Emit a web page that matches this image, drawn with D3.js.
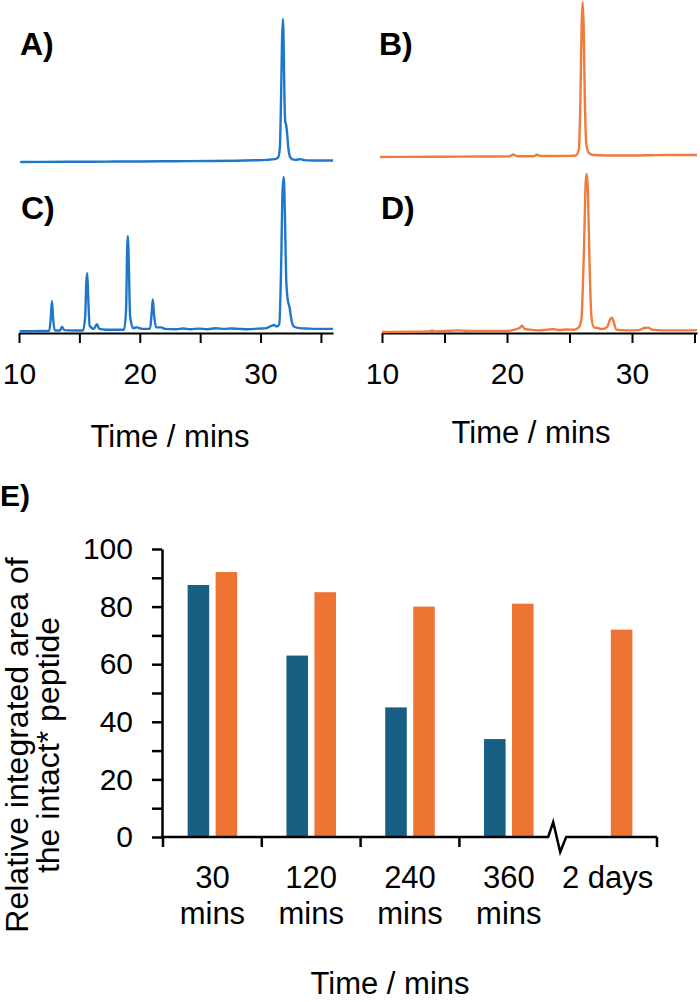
<!DOCTYPE html>
<meta charset="utf-8">
<title>Chromatograms and intact peptide</title>
<style>
  body { margin: 0; background: #fff; }
  text { font-family: "Liberation Sans", Arial, sans-serif; fill: #000; }
</style>
<body>
<script src="https://cdn.jsdelivr.net/npm/d3@7"></script>
<script>
    // chromatogram traces, [time / min, signal in % of the main peak]
    const traceA = [[10.1,0],[12,0.1],[14,0.2],[16,0.2],[18,0.3],[20,0.4],[22,0.5],[24,0.6],[26,0.7],[28,0.9],
        [29.5,1.2],[30.5,1.5],[31.2,2],[31.45,3],[31.6,10],[31.7,45],[31.78,85],[31.85,100],[31.92,80],[31.98,45],
        [32.05,28],[32.12,26],[32.2,20],[32.3,10],[32.42,4],[32.6,2],[32.9,1.5],[33.3,2],[33.6,1.3],[34.2,1.1],[35,1],[36,1]];

    const traceB = [[9.85,0],[12,0.1],[15,0.2],[18,0.3],[20.2,0.4],[20.5,1.6],[20.8,0.5],[22.1,0.5],[22.4,1.5],[22.7,0.6],
        [24,0.6],[25,0.7],[25.5,1],[25.75,5],[25.88,40],[25.97,85],[26.05,100],[26.13,85],[26.22,40],[26.35,8],
        [26.55,2.5],[26.9,1.3],[28,1],[30,1],[32,1.2],[34,1.3],[35.2,1.3]];

    const traceC = [[10.05,0.5],[11,0.5],[12,0.6],[12.5,0.8],[12.62,8],[12.73,20],[12.83,8],[12.98,1],[13.4,1],[13.56,3.5],
        [13.75,1.2],[14.5,1],[15.3,1],[15.48,10],[15.58,33],[15.65,38],[15.72,25],[15.85,4],[16.2,2],[16.45,5],[16.65,2],
        [17.2,1.5],[18,1.5],[18.7,1.5],[18.87,15],[18.96,55],[19.02,62],[19.09,45],[19.2,10],[19.45,2.5],[19.75,3],[20.2,2],
        [20.85,2],[20.98,12],[21.08,21],[21.17,12],[21.35,3],[21.75,3],[22.1,2],[23,1.8],[23.6,2.3],[24.2,1.8],[24.9,2.2],
        [25.6,1.8],[26.3,2.4],[27,2],[27.6,2.3],[28.3,2],[29,1.8],[29.8,2.2],[30.5,2.5],[30.9,4],[31.1,4.5],[31.35,3.5],
        [31.55,5],[31.7,40],[31.82,90],[31.92,100],[32.02,75],[32.12,35],[32.25,21],[32.4,16],[32.55,8],[32.75,3.5],
        [33.2,2.5],[34,2.2],[35,2],[36,2]];

    const traceD = [[10,0],[12,0.2],[13.8,0.4],[14,1],[14.2,0.4],[15.5,0.8],[16.1,1],[16.7,0.8],[17.5,0.6],[19.2,0.6],[20,0.6],
        [20.6,1.5],[21,2.5],[21.2,4],[21.4,2],[21.8,1.5],[22.5,1],[23.2,1.5],[23.7,1.8],[24.2,1.2],[24.8,1.6],[25.3,1.4],
        [25.7,2.5],[25.95,8],[26.15,50],[26.3,95],[26.38,100],[26.47,90],[26.6,45],[26.75,10],[26.95,3],[27.3,2.5],
        [27.6,1.8],[28,3],[28.25,8],[28.4,9],[28.55,6],[28.75,1.5],[29.5,1],[30.5,1.2],[31,2.5],[31.3,2.8],[31.6,1.5],
        [32.5,1],[34,1],[35.2,1.2]];

    const timeTicks = [10, 15, 20, 25, 30, 35];
    const timeLabels = [10, 20, 30];

    // bar chart
    const categories = ["30 mins", "120 mins", "240 mins", "360 mins", "2 days"];
    const categoryLines = [["30", "mins"], ["120", "mins"], ["240", "mins"], ["360", "mins"], ["2 days"]];
    const blueValues = [87.5, 63, 45, 34, null];
    const orangeValues = [92, 85, 80, 81, 72];
    const yTicks = [0, 10, 20, 30, 40, 50, 60, 70, 80, 90, 100];

    var width = 700,
        height = 1002;

    var blue = "#1f77cc",
        orange = "#f07b3c",
        barBlue = "#185f84",
        barOrange = "#ed7432";

    var svg = d3.select("body").append("svg")
        .attr("width", width)
        .attr("height", height);

    svg.append("rect").attr("width", width).attr("height", height).attr("fill", "#fff");

    var xLeft = d3.scaleLinear().domain([10, 36]).range([19, 333]);
    var xRight = d3.scaleLinear().domain([10, 35.2]).range([382, 697]);

    var panels = [
        {label: "A)", data: traceA, x: xLeft,  y: d3.scaleLinear([0, 100], [162, 19]),  color: blue,   lx: 20,  ly: 55,  axis: false},
        {label: "B)", data: traceB, x: xRight, y: d3.scaleLinear([0, 100], [157, 2]),   color: orange, lx: 379, ly: 55,  axis: false},
        {label: "C)", data: traceC, x: xLeft,  y: d3.scaleLinear([0, 100], [332, 177]), color: blue,   lx: 21,  ly: 219, axis: true},
        {label: "D)", data: traceD, x: xRight, y: d3.scaleLinear([0, 100], [332, 174]), color: orange, lx: 381, ly: 219, axis: true}
    ];

    panels.forEach(function(p) {
        if (p.axis) {
            var ax = svg.append("g")
                .attr("transform", "translate(0,333)")
                .call(d3.axisBottom(p.x)
                    .tickValues(timeTicks)
                    .tickSize(10)
                    .tickSizeOuter(0)
                    .tickFormat(d => timeLabels.includes(d) ? d : ""));
            ax.selectAll("path, line").attr("stroke", "#000").attr("stroke-width", 2);
            ax.selectAll("text")
                .attr("y", 30)
                .attr("font-size", 30)
                .attr("font-family", null);
        }

        var line = d3.line()
            .x(d => p.x(d[0]))
            .y(d => p.y(d[1]))
            .curve(d3.curveMonotoneX);

        svg.append("path")
            .datum(p.data)
            .attr("d", line)
            .attr("fill", "none")
            .attr("stroke", p.color)
            .attr("stroke-width", 2.4)
            .attr("stroke-linejoin", "round");

        svg.append("text")
            .attr("x", p.lx)
            .attr("y", p.ly)
            .attr("font-size", 32)
            .attr("font-weight", "bold")
            .text(p.label);
    });

    svg.append("text").attr("x", 170).attr("y", 447).attr("text-anchor", "middle")
        .attr("font-size", 31).text("Time / mins");
    svg.append("text").attr("x", 531).attr("y", 443).attr("text-anchor", "middle")
        .attr("font-size", 31).text("Time / mins");

    // ---- E) bar chart ----
    svg.append("text").attr("x", 0).attr("y", 506)
        .attr("font-size", 30).attr("font-weight", "bold").text("E)");

    var y = d3.scaleLinear().domain([0, 100]).range([837, 549]);
    var x0 = d3.scaleBand().domain(categories).range([163, 657]);
    var x1 = d3.scaleBand().domain(["blue", "orange"]).range([0, x0.bandwidth()])
        .paddingInner(0.23).paddingOuter(0.88);

    var bars = svg.append("g");
    categories.forEach(function(c, i) {
        if (blueValues[i] != null) {
            bars.append("rect")
                .attr("x", x0(c) + x1("blue"))
                .attr("y", y(blueValues[i]))
                .attr("width", x1.bandwidth())
                .attr("height", y(0) - y(blueValues[i]))
                .attr("fill", barBlue);
        }
        bars.append("rect")
            .attr("x", x0(c) + x1("orange"))
            .attr("y", y(orangeValues[i]))
            .attr("width", x1.bandwidth())
            .attr("height", y(0) - y(orangeValues[i]))
            .attr("fill", barOrange);
    });

    var yAxis = svg.append("g")
        .attr("transform", "translate(162,0)")
        .call(d3.axisLeft(y)
            .tickValues(yTicks)
            .tickSize(10)
            .tickSizeOuter(0)
            .tickPadding(19)
            .tickFormat(d => d % 20 === 0 ? d : ""));
    yAxis.selectAll("path, line").attr("stroke", "#000").attr("stroke-width", 2.5);
    yAxis.selectAll("text").attr("font-size", 30).attr("font-family", null);

    // x axis with a break before "2 days"
    var bx = x0("2 days") - 1,
        x0end = x0.range()[1],
        p = d3.path();
    p.moveTo(161, y(0));
    p.lineTo(bx - 9, y(0));
    p.lineTo(bx - 4, y(0) - 15);
    p.lineTo(bx + 3, y(0) + 15);
    p.lineTo(bx + 9, y(0));
    p.lineTo(x0end, y(0));
    categories.slice(0, 4).forEach(function(c) {
        p.moveTo(x0(c), y(0));
        p.lineTo(x0(c), y(0) + 10);
    });
    p.moveTo(x0end, y(0));
    p.lineTo(x0end, y(0) + 10);
    svg.append("path")
        .attr("d", p.toString())
        .attr("fill", "none")
        .attr("stroke", "#000")
        .attr("stroke-width", 2.5);

    categories.forEach(function(c, i) {
        var t = svg.append("text")
            .attr("text-anchor", "middle")
            .attr("font-size", 31);
        categoryLines[i].forEach(function(s, k) {
            t.append("tspan")
                .attr("x", x0(c) + x0.bandwidth() / 2)
                .attr("y", 888 + k * 36)
                .text(s);
        });
    });

    svg.append("text").attr("x", 390).attr("y", 994).attr("text-anchor", "middle")
        .attr("font-size", 31).text("Time / mins");

    var yl = svg.append("text")
        .attr("transform", "translate(0,745) rotate(-90)")
        .attr("text-anchor", "middle")
        .attr("font-size", 32);
    yl.append("tspan").attr("x", 0).attr("y", 28).text("Relative integrated area of");
    yl.append("tspan").attr("x", 0).attr("y", 59).text("the intact* peptide");
</script>
</body>
